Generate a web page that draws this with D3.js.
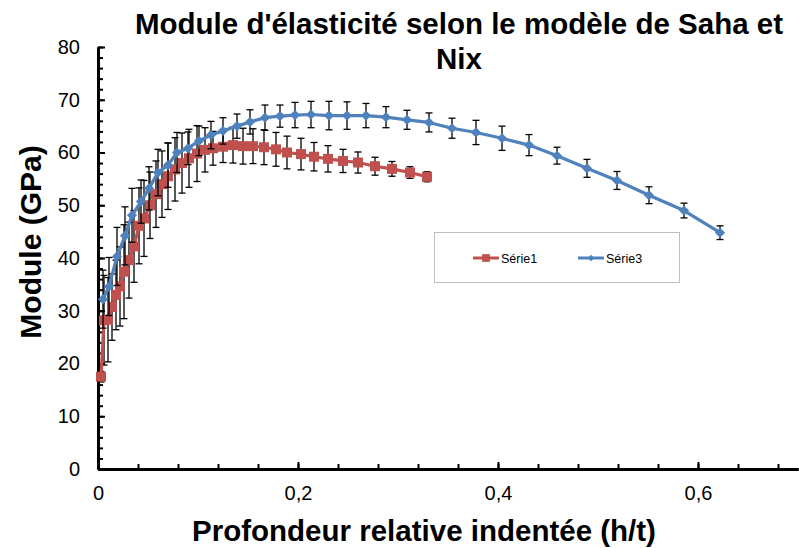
<!DOCTYPE html>
<html>
<head>
<meta charset="utf-8">
<script src="https://cdn.jsdelivr.net/npm/d3@7"></script>
<style>
  html, body { margin: 0; padding: 0; background: #fff; }
  svg { display: block; font-family: "Liberation Sans", Arial, sans-serif; }
</style>
</head>
<body>
<svg id="chart" width="799" height="548"></svg>
<script>
// ---- data ----
const serie1X = [0.003,0.006,0.010,0.014,0.018,0.022,0.026,0.031,0.036,0.041,0.046,0.052,0.058,0.064,0.070,0.077,0.084,0.091,0.099,0.107,0.115,0.125,0.135,0.145,0.155,0.166,0.178,0.189,0.203,0.216,0.230,0.245,0.260,0.277,0.294,0.312,0.329];
const serie1Y = [17.5,28.2,28.3,30.7,33.0,34.6,37.4,39.6,42.2,46.1,47.5,50.0,52.1,54.0,55.5,56.8,58.0,58.9,59.8,60.5,60.8,61.1,61.4,61.2,61.2,61.0,60.6,60.0,59.7,59.2,58.8,58.4,58.1,57.4,56.9,56.2,55.4];
const serie1Err = [1.0,8.5,8.0,6.3,6.6,7.5,8.9,7.2,6.8,7.2,7.2,6.3,6.3,6.3,6.3,6.0,5.7,5.5,5.3,4.2,3.2,3.0,3.4,3.4,3.3,3.3,3.2,3.1,3.0,2.7,2.5,2.2,2.0,1.7,1.4,1.1,0.95];

const serie3X = [0.005,0.011,0.019,0.027,0.034,0.043,0.051,0.060,0.070,0.079,0.090,0.101,0.113,0.125,0.139,0.152,0.167,0.182,0.197,0.213,0.231,0.249,0.268,0.288,0.309,0.331,0.354,0.378,0.404,0.431,0.459,0.489,0.519,0.551,0.586,0.622];
const serie3Y = [32.2,34.6,40.3,44.2,48.1,50.7,53.2,56.2,57.6,60.0,60.8,62.2,63.3,64.1,65.0,65.8,66.6,66.9,67.1,67.2,67.0,67.0,67.0,66.7,66.2,65.7,64.6,63.8,62.7,61.4,59.4,57.0,54.7,51.9,49.0,44.8];
const serie3Err = [5.5,5.5,5.5,5.5,5.1,4.1,4.1,4.4,4.2,3.8,3.1,2.8,2.6,2.5,2.3,2.3,2.4,2.1,2.4,2.5,2.7,2.6,2.3,2.0,1.8,1.8,1.9,2.3,2.3,2.0,1.6,1.7,1.7,1.6,1.4,1.3];

const seriesNames = ["Série1", "Série3"];
const xMajorTicks = [0, 0.2, 0.4, 0.6];
const yMajorTicks = [0,10,20,30,40,50,60,70,80];
const titleLines = ["Module d'élasticité selon le modèle de Saha et", "Nix"];
const xTitle = "Profondeur relative indentée (h/t)";
const yTitle = "Module (GPa)";

// ---- layout ----
const svg = d3.select("#chart");
const x = d3.scaleLinear().domain([0, 0.7]).range([98, 798]);
const y = d3.scaleLinear().domain([0, 80]).range([469, 47]);
const fmt = d => d3.format("~g")(d).replace(".", ",");

const red = "#C0504D", blue = "#4F81BD";

// Title
svg.append("text").attr("x", 459).attr("y", 34).attr("text-anchor", "middle")
  .attr("font-size", 29.5).attr("font-weight", "bold").text(titleLines[0]);
svg.append("text").attr("x", 459).attr("y", 69).attr("text-anchor", "middle")
  .attr("font-size", 29.5).attr("font-weight", "bold").text(titleLines[1]);

// Axis titles
svg.append("text").attr("x", 424).attr("y", 541).attr("text-anchor", "middle")
  .attr("font-size", 29.5).attr("font-weight", "bold").text(xTitle);
svg.append("text").attr("transform", "translate(41,242) rotate(-90)").attr("text-anchor", "middle")
  .attr("font-size", 30).attr("font-weight", "bold").text(yTitle);

// Minor ticks
const gyMinor = svg.append("g").attr("transform", "translate(98,0)")
  .call(d3.axisLeft(y).tickValues(d3.range(0, 81, 2)).tickSizeInner(-5).tickSizeOuter(0).tickFormat(""));
const gxMinor = svg.append("g").attr("transform", "translate(0,469)")
  .call(d3.axisBottom(x).tickValues(d3.range(0, 0.701, 0.04)).tickSizeInner(-5).tickSizeOuter(0).tickFormat(""));

// Major axes
const gy = svg.append("g").attr("transform", "translate(98,0)")
  .call(d3.axisLeft(y).tickValues(yMajorTicks).tickSizeInner(-7).tickSizeOuter(0).tickPadding(18).tickFormat(fmt));
const gx = svg.append("g").attr("transform", "translate(0,469)")
  .call(d3.axisBottom(x).tickValues(xMajorTicks).tickSizeInner(-7).tickSizeOuter(0).tickPadding(17).tickFormat(fmt));

[gyMinor, gxMinor, gy, gx].forEach(g => {
  g.selectAll("path.domain").attr("stroke", "#000").attr("stroke-width", 3);
  g.selectAll(".tick line").attr("stroke", "#000").attr("stroke-width", 2);
  g.selectAll(".tick text").attr("font-size", 20).attr("fill", "#000")
    .attr("font-family", "'Liberation Sans', Arial, sans-serif");
});

// Series drawing
function drawSeries(xs, ys, errs, color, marker) {
  const pts = xs.map((v, i) => ({ x: v, y: ys[i], e: errs[i] }));
  const g = svg.append("g");
  // error bars
  const eb = g.append("g").attr("stroke", "#000").attr("stroke-width", 1.3);
  pts.forEach(p => {
    const cx = x(p.x), t = y(p.y + p.e), b = y(p.y - p.e);
    eb.append("line").attr("x1", cx).attr("x2", cx).attr("y1", t).attr("y2", b);
    eb.append("line").attr("x1", cx - 3.5).attr("x2", cx + 3.5).attr("y1", t).attr("y2", t);
    eb.append("line").attr("x1", cx - 3.5).attr("x2", cx + 3.5).attr("y1", b).attr("y2", b);
  });
  // line
  g.append("path").datum(pts)
    .attr("fill", "none").attr("stroke", color).attr("stroke-width", 3.2)
    .attr("stroke-linejoin", "round")
    .attr("d", d3.line().x(d => x(d.x)).y(d => y(d.y)));
  // markers
  g.selectAll("path.m").data(pts).join("path").attr("class", "m")
    .attr("fill", color)
    .attr("d", marker === "square" ? d3.symbol(d3.symbolSquare, 100)() : d3.symbol(d3.symbolSquare, 52)())
    .attr("transform", d => `translate(${x(d.x)},${y(d.y)})` + (marker === "diamond" ? " rotate(45)" : ""));
}

drawSeries(serie1X, serie1Y, serie1Err, red, "square");
drawSeries(serie3X, serie3Y, serie3Err, blue, "diamond");

// Legend
const lg = svg.append("g");
lg.append("rect").attr("x", 434.5).attr("y", 232.5).attr("width", 245).attr("height", 50)
  .attr("fill", "#fff").attr("stroke", "#bfbfbf").attr("stroke-width", 1);
const legendItems = [
  { name: seriesNames[0], color: red, x0: 473, marker: "square" },
  { name: seriesNames[1], color: blue, x0: 578, marker: "diamond" }
];
legendItems.forEach(it => {
  lg.append("line").attr("x1", it.x0).attr("x2", it.x0 + 26).attr("y1", 258).attr("y2", 258)
    .attr("stroke", it.color).attr("stroke-width", 3);
  lg.append("path").attr("fill", it.color)
    .attr("d", it.marker === "square" ? d3.symbol(d3.symbolSquare, 60)() : d3.symbol(d3.symbolSquare, 22)())
    .attr("transform", `translate(${it.x0 + 13},258)` + (it.marker === "diamond" ? " rotate(45)" : ""));
  lg.append("text").attr("x", it.x0 + 28).attr("y", 262.5).attr("font-size", 12.5)
    .attr("fill", "#000").text(it.name);
});
</script>
</body>
</html>
